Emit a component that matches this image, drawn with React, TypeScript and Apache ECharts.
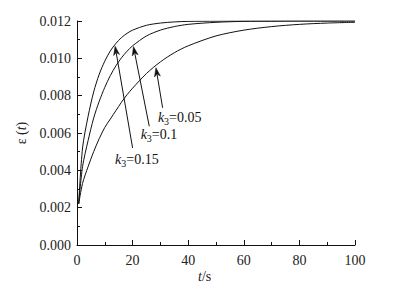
import React, { useEffect, useRef } from "react";
import * as echarts from "echarts";

const times = [0.6, 2, 4, 6, 8, 10, 12, 14, 16, 18, 20, 25, 30, 35, 40, 50, 60, 70, 80, 90, 100];
const epsK015 = [0.0022, 0.0052, 0.0069, 0.0082, 0.00915, 0.00985, 0.0104, 0.0108, 0.01111, 0.01134, 0.01151, 0.01177, 0.01189, 0.01195, 0.01198, 0.01199, 0.012, 0.012, 0.012, 0.012, 0.012];
const epsK010 = [0.0022, 0.0042, 0.0056, 0.0068, 0.0077, 0.00845, 0.00908, 0.0096, 0.01003, 0.01038, 0.01067, 0.0112, 0.01151, 0.0117, 0.01182, 0.01193, 0.01198, 0.01199, 0.012, 0.012, 0.012];
const epsK005 = [0.0022, 0.0033, 0.0042, 0.005, 0.0057, 0.0063, 0.00675, 0.0072, 0.00765, 0.00805, 0.0084, 0.00919, 0.00981, 0.0103, 0.01067, 0.0112, 0.01151, 0.0117, 0.01182, 0.01189, 0.01193];

const seriesNames = ["k3=0.15", "k3=0.1", "k3=0.05"];
const kValues = ["0.15", "0.1", "0.05"];
// arrow tail [t, eps] -> tip [t, eps]
const arrowTails = [[20.0, 0.0052], [26.0, 0.00636], [30.8, 0.00735]];
const arrowTips = [[13.7, 0.01065], [20.3, 0.01063], [28.4, 0.0095]];
const labelAnchors = [[13.7, 0.00457], [22.9, 0.00591], [29.1, 0.00683]];

const FONT = "'Liberation Serif', 'Times New Roman', serif";
const INK = "#111";

export default function App() {
  const ref = useRef<HTMLDivElement>(null);
  useEffect(() => {
    document.body.style.margin = "0";
    if (!ref.current) return;
    const chart = echarts.init(ref.current, null, { renderer: "svg" });
    const datas = [epsK015, epsK010, epsK005];
    const series: any[] = datas.map((d, i) => ({
      name: seriesNames[i],
      type: "line",
      smooth: 0.3,
      showSymbol: false,
      symbol: "none",
      lineStyle: { color: INK, width: 1 },
      data: times.map((t, j) => [t, d[j]]),
      markPoint: {
        silent: true,
        symbol: "circle",
        symbolSize: 0,
        data: [
          {
            coord: labelAnchors[i],
            label: {
              show: true,
              position: "right",
              distance: 0,
              formatter: `{k|k}{s|3}{v|=${kValues[i]}}`,
              rich: {
                k: { fontFamily: FONT, fontStyle: "italic", fontSize: 14, color: INK },
                s: { fontFamily: FONT, fontSize: 10, color: INK, padding: [8, 0, 0, 0] },
                v: { fontFamily: FONT, fontSize: 14, color: INK },
              },
            },
          },
        ],
      },
    }));
    series.push({
      type: "custom",
      name: "arrows",
      silent: true,
      data: arrowTails.map((a, i) => [a[0], a[1], arrowTips[i][0], arrowTips[i][1]]),
      renderItem: (params: any, api: any) => {
        const p1 = api.coord([api.value(0), api.value(1)]);
        const p2 = api.coord([api.value(2), api.value(3)]);
        const dx = p2[0] - p1[0];
        const dy = p2[1] - p1[1];
        const len = Math.sqrt(dx * dx + dy * dy);
        const ux = dx / len;
        const uy = dy / len;
        const headLen = 9;
        const headHalf = 3;
        const bx = p2[0] - ux * headLen;
        const by = p2[1] - uy * headLen;
        const nx = -uy;
        const ny = ux;
        return {
          type: "group",
          children: [
            {
              type: "line",
              shape: { x1: p1[0], y1: p1[1], x2: bx + ux * 2, y2: by + uy * 2 },
              style: { stroke: INK, lineWidth: 1 },
            },
            {
              type: "polygon",
              shape: {
                points: [
                  [p2[0], p2[1]],
                  [bx + nx * headHalf, by + ny * headHalf],
                  [bx + ux * 2.5, by + uy * 2.5],
                  [bx - nx * headHalf, by - ny * headHalf],
                ],
              },
              style: { fill: INK, stroke: INK, lineWidth: 0.5 },
            },
          ],
        };
      },
    });
    chart.setOption({
      animation: false,
      backgroundColor: "#fff",
      grid: { left: 77, right: 43, top: 21, bottom: 45, containLabel: false },
      xAxis: {
        type: "value",
        min: 0,
        max: 100,
        interval: 20,
        axisLine: { show: true, lineStyle: { color: INK, width: 1 } },
        axisTick: { show: true, inside: true, length: 5, lineStyle: { color: INK } },
        minorTick: { show: true, splitNumber: 2, length: 3, lineStyle: { color: INK } },
        splitLine: { show: false },
        axisLabel: { fontFamily: FONT, fontSize: 14, color: "#222", margin: 8 },
      },
      yAxis: {
        type: "value",
        min: 0,
        max: 0.012,
        interval: 0.002,
        axisLine: { show: true, lineStyle: { color: INK, width: 1 } },
        axisTick: { show: true, inside: true, length: 5, lineStyle: { color: INK } },
        minorTick: { show: true, splitNumber: 2, length: 3, lineStyle: { color: INK } },
        splitLine: { show: false },
        axisLabel: {
          fontFamily: FONT,
          fontSize: 14,
          color: "#222",
          margin: 6,
          formatter: (v: number) => v.toFixed(3),
        },
        name: "{e|ε} {r|(}{i|t}{r|)}",
        nameLocation: "middle",
        nameGap: 48,
        nameTextStyle: {
          fontFamily: FONT,
          fontSize: 14,
          color: "#222",
          rich: {
            e: { fontFamily: FONT, fontSize: 14, color: "#222" },
            r: { fontFamily: FONT, fontSize: 14, color: "#222" },
            i: { fontFamily: FONT, fontStyle: "italic", fontSize: 14, color: "#222" },
          },
        },
      },
      graphic: [
        {
          type: "text",
          x: 198,
          y: 269,
          style: {
            text: "{i|t}{r|/s}",
            rich: {
              i: { fontFamily: FONT, fontStyle: "italic", fontSize: 14, fill: "#222" },
              r: { fontFamily: FONT, fontSize: 14, fill: "#222" },
            },
            fill: "#222",
          },
        },
      ],
      series,
    });
    return () => chart.dispose();
  }, []);
  return <div ref={ref} style={{ width: 398, height: 290 }} />;
}
